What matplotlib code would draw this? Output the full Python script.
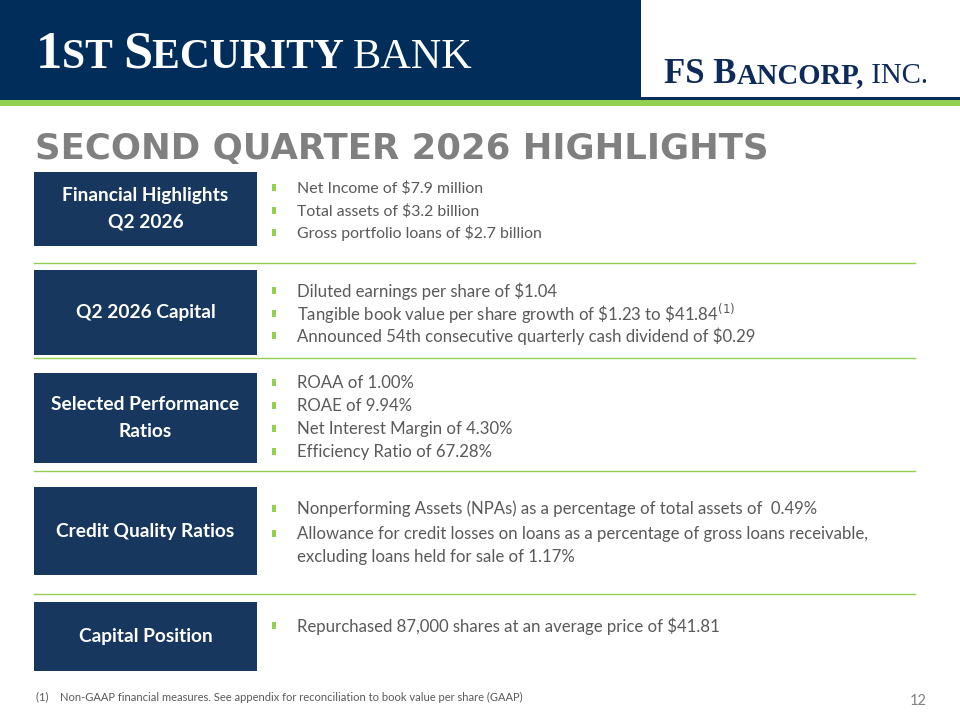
import matplotlib.pyplot as plt
from matplotlib.patches import Rectangle

# Contenu de la diapositive
titre = "SECOND QUARTER 2026 HIGHLIGHTS"
rubriques = ["Financial Highlights\nQ2 2026", "Q2 2026 Capital", "Selected Performance\nRatios",
             "Credit Quality Ratios", "Capital Position"]
puces = [
    ["Net Income of \\$7.9 million", "Total assets of \\$3.2 billion", "Gross portfolio loans of \\$2.7 billion"],
    ["Diluted earnings per share of \\$1.04",
     "Tangible book value per share growth of \\$1.23 to \\$41.84$^{(1)}$",
     "Announced 54th consecutive quarterly cash dividend of \\$0.29"],
    ["ROAA of 1.00%", "ROAE of 9.94%", "Net Interest Margin of 4.30%", "Efficiency Ratio of 67.28%"],
    ["Nonperforming Assets (NPAs) as a percentage of total assets of  0.49%",
     "Allowance for credit losses on loans as a percentage of gross loans receivable,\nexcluding loans held for sale of 1.17%"],
    ["Repurchased 87,000 shares at an average price of \\$41.81"],
]
note = "(1)    Non-GAAP financial measures. See appendix for reconciliation to book value per share (GAAP)"
page = "12"

# logos : (morceau, taille relative, graisse)
logo_gauche = [("1", 1.0, "bold"), ("ST ", 0.79, "bold"), ("S", 1.0, "bold"),
               ("ECURITY ", 0.79, "bold"), ("BANK", 0.8, "normal")]
logo_droite = [("FS B", 1.0, "bold"), ("ANCORP,", 0.83, "bold"), (" INC.", 0.83, "normal")]

# Mise en page (pixels)
boites = [(172, 246), (270, 355), (373, 463), (487, 575), (602, 671)]
y_puces = [[188, 211, 233], [291, 314, 336], [383, 406, 429, 452], [509, 534], [626]]
tailles_puces = [11.4, 12.1, 12.1, 12.1, 12.1]
lignes = [263, 358, 471, 594]

marine = "#17375e"
vert = "#92d050"
gris = "#595959"
police = "Lato"

fig = plt.figure(figsize=(9.6, 7.2), dpi=100)
ax = fig.add_axes([0, 0, 1, 1])
ax.set_xlim(0, 960)
ax.set_ylim(720, 0)
ax.axis("off")
rend = fig.canvas.get_renderer()


def logo(morceaux, x0, y_base, taille, largeur, couleur):
    # premier passage pour mesurer, second pour caler la largeur
    for passe in range(2):
        x = x0
        textes = []
        for s, r, w in morceaux:
            t = ax.text(x, y_base, s, color=couleur, family="Liberation Serif", weight=w,
                        fontsize=taille * r, ha="left", va="baseline")
            x += t.get_window_extent(rend).width
            textes.append(t)
        if passe == 0:
            for t in textes:
                t.remove()
            taille *= largeur / (x - x0)


# Bandeau
ax.add_patch(Rectangle((0, 0), 960, 100, color="#002d5a", lw=0))
ax.add_patch(Rectangle((641, 0), 319, 97, color="white", lw=0))
ax.add_patch(Rectangle((0, 100), 960, 6, color=vert, lw=0))
logo(logo_gauche, 36, 68, 40, 437, "white")
logo(logo_droite, 664, 83, 24, 263, "#0d2b5a")

ax.text(35, 149, titre, color="#808080", family="DejaVu Sans", weight="bold",
        fontsize=25.6, va="center", ha="left")

for (y0, y1), lab, items, ys, fs in zip(boites, rubriques, puces, y_puces, tailles_puces):
    ax.add_patch(Rectangle((34, y0), 223, y1 - y0, color=marine, lw=0))
    ax.text(145.5, (y0 + y1) / 2, lab, color="white", family=police, weight="bold",
            fontsize=13.8, ha="center", va="center", linespacing=1.65)
    for it, y in zip(items, ys):
        ax.add_patch(Rectangle((272, y - 4), 4, 7, color=vert, lw=0))
        for k, ligne in enumerate(it.split("\n")):
            ax.text(297, y + 23 * k, ligne, color=gris, family=police, fontsize=fs,
                    ha="left", va="center")

for y in lignes:
    ax.plot([34, 915], [y, y], color=vert, lw=1)

ax.text(36, 697, note, color=gris, family=police, fontsize=8.0, ha="left", va="center")
ax.text(918, 701, page, color="#808080", family=police, fontsize=10.5, ha="center", va="center")

fig.savefig("out.png", dpi=100)
